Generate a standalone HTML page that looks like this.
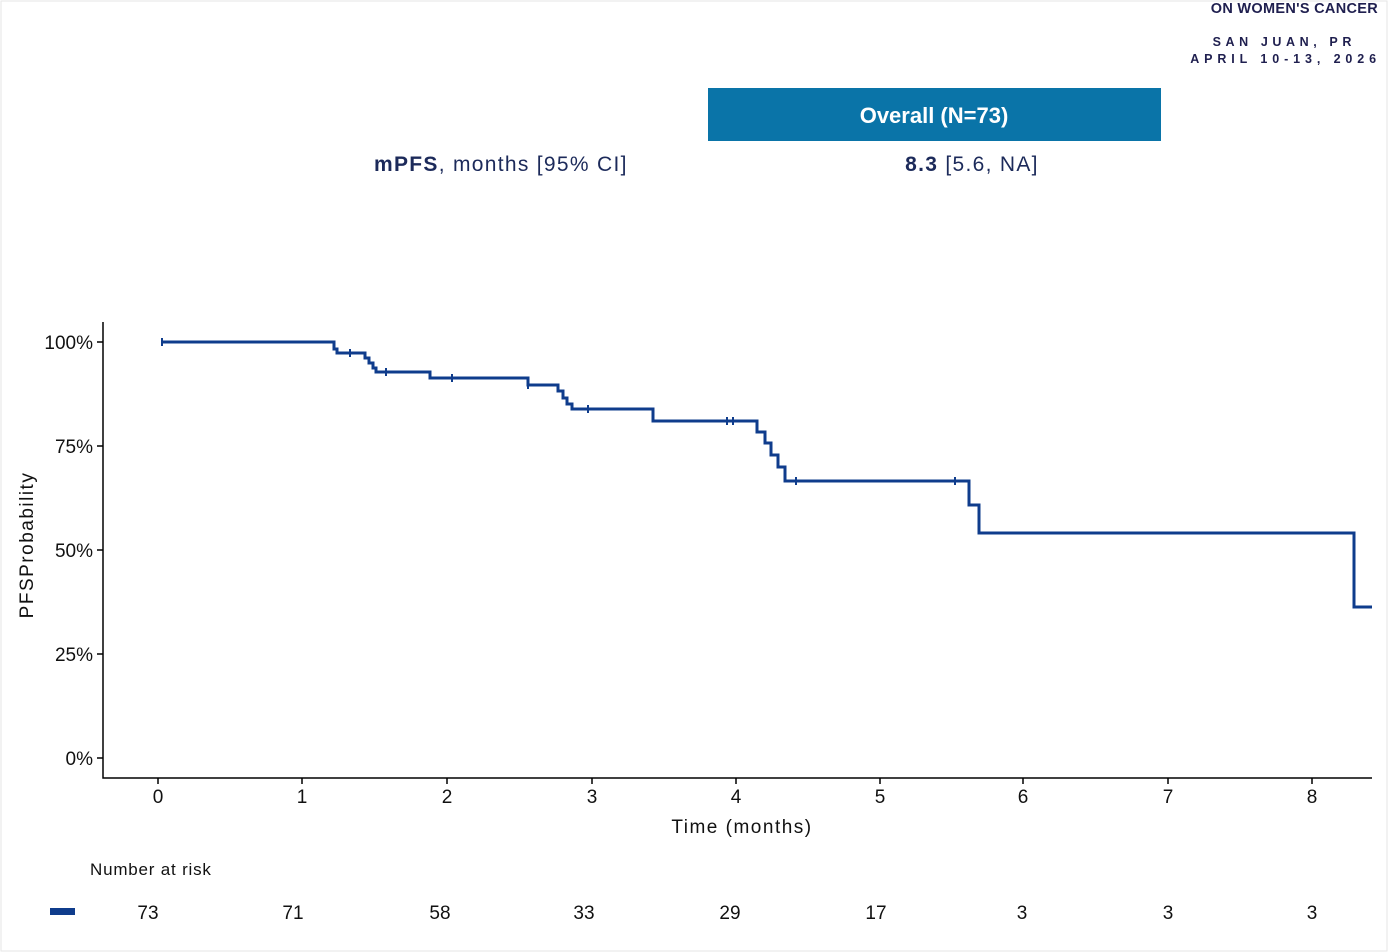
<!DOCTYPE html>
<html><head><meta charset="utf-8"><style>
body{margin:0;background:#fff;}
svg{display:block;font-family:"Liberation Sans",sans-serif;}
</style></head><body>
<svg width="1388" height="952" viewBox="0 0 1388 952" xmlns="http://www.w3.org/2000/svg">
<rect width="1388" height="952" fill="#fff"/>
<rect x="1" y="1" width="1386" height="950" fill="none" stroke="#e6e6e6"/>
<g fill="#1f1f4f" font-weight="bold" text-anchor="end">
<text x="1378" y="13" font-size="14.5" letter-spacing="0.3">ON WOMEN'S CANCER</text>
<text x="1356" y="46" font-size="12.5" letter-spacing="4.6">SAN JUAN, PR</text>
<text x="1381" y="63" font-size="12.5" letter-spacing="4.9">APRIL 10-13, 2026</text>
</g>
<rect x="708" y="88" width="453" height="53" fill="#0a74a8"/>
<text x="934" y="123" font-size="22" fill="#fff" font-weight="bold" text-anchor="middle">Overall (N=73)</text>
<text x="374" y="171" font-size="21" fill="#1c2a5a" letter-spacing="1.3"><tspan font-weight="bold">mPFS</tspan>, months [95% CI]</text>
<text x="972" y="171" font-size="21" fill="#1c2a5a" text-anchor="middle" letter-spacing="1.3"><tspan font-weight="bold">8.3</tspan> [5.6, NA]</text>
<g stroke="#000" stroke-width="1.5" fill="none">
<path d="M103 322V778H1372"/>
<path d="M97 342H103M97 446H103M97 550H103M97 654H103M97 758H103"/>
<path d="M158 778V784M302 778V784M447 778V784M592 778V784M736 778V784M880 778V784M1023 778V784M1168 778V784M1312 778V784"/>
</g>
<g font-size="19" fill="#111" text-anchor="end">
<text x="93" y="349">100%</text><text x="93" y="453">75%</text><text x="93" y="557">50%</text><text x="93" y="661">25%</text><text x="93" y="765">0%</text>
</g>
<g font-size="19" fill="#111" text-anchor="middle">
<text x="158" y="803">0</text><text x="302" y="803">1</text><text x="447" y="803">2</text><text x="592" y="803">3</text><text x="736" y="803">4</text><text x="880" y="803">5</text><text x="1023" y="803">6</text><text x="1168" y="803">7</text><text x="1312" y="803">8</text>
<text x="742" y="833" letter-spacing="1.5">Time (months)</text>
</g>
<text transform="translate(33,545) rotate(-90)" font-size="19" fill="#111" text-anchor="middle" letter-spacing="1.5">PFSProbability</text>
<path d="M162 342H334V349H337V353H365V358H369V363H373V368H376V372H430V378H528V385H558V391H563V398H567V404H572V409H653V421H757V432H765V443H771V455H778V467H785V481H969V505H979V533H1354V607H1372" fill="none" stroke="#0f3c8c" stroke-width="3"/>
<g stroke="#0f3c8c" stroke-width="2"><path d="M162 338V346M350 349V357M386 368V376M452 374V382M528 381V389M588 405V413M727 417V425M733 417V425M796 477V485M955 477V485"/></g>
<text x="90" y="875" font-size="17" fill="#111" letter-spacing="0.8">Number at risk</text>
<rect x="50" y="908" width="25" height="7" fill="#0f3c8c"/>
<g font-size="19" fill="#111" text-anchor="middle">
<text x="148" y="919">73</text><text x="293" y="919">71</text><text x="440" y="919">58</text><text x="584" y="919">33</text><text x="730" y="919">29</text><text x="876" y="919">17</text><text x="1022" y="919">3</text><text x="1168" y="919">3</text><text x="1312" y="919">3</text>
</g>
</svg>
</body></html>
